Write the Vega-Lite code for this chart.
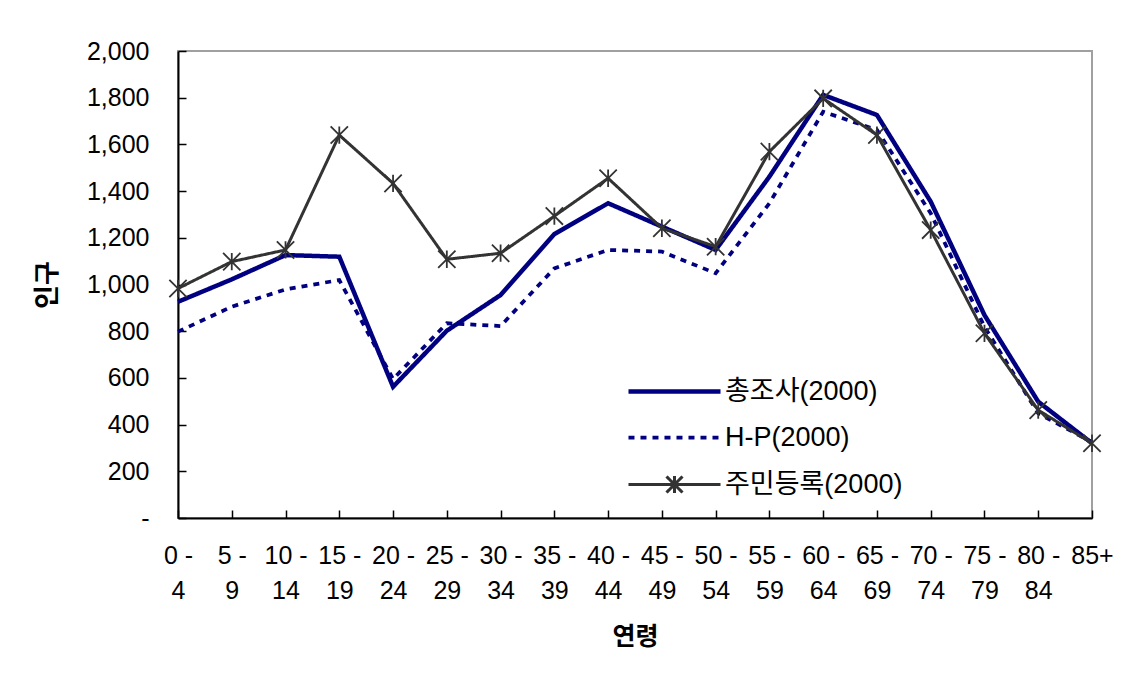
{
  "$schema": "https://vega.github.io/schema/vega-lite/v6.json",
  "width": 914,
  "height": 467,
  "autosize": {"type": "none"},
  "padding": {"left": 178, "top": 51, "right": 42, "bottom": 156},
  "background": "white",
  "config": {
    "font": "Liberation Sans, Noto Sans CJK KR",
    "view": {"stroke": "#a0a0a0", "strokeWidth": 2},
    "axis": {
      "grid": false,
      "domainColor": "black",
      "domainWidth": 2,
      "tickColor": "black",
      "tickWidth": 1.5,
      "tickSize": -8,
      "labelColor": "black",
      "labelFontSize": 25,
      "labelFont": "Liberation Sans, Noto Sans CJK KR",
      "titleFont": "Liberation Sans, Noto Sans CJK KR",
      "titleFontSize": 25,
      "titleFontWeight": "bold",
      "titleColor": "black"
    },
    "legend": {
      "labelFont": "Liberation Sans, Noto Sans CJK KR"
    }
  },
  "data": {
    "values": [
      {"age": "0-4", "series": "총조사(2000)", "value": 926},
      {"age": "5-9", "series": "총조사(2000)", "value": 1022},
      {"age": "10-14", "series": "총조사(2000)", "value": 1126},
      {"age": "15-19", "series": "총조사(2000)", "value": 1119},
      {"age": "20-24", "series": "총조사(2000)", "value": 562},
      {"age": "25-29", "series": "총조사(2000)", "value": 802},
      {"age": "30-34", "series": "총조사(2000)", "value": 955},
      {"age": "35-39", "series": "총조사(2000)", "value": 1216},
      {"age": "40-44", "series": "총조사(2000)", "value": 1348},
      {"age": "45-49", "series": "총조사(2000)", "value": 1248},
      {"age": "50-54", "series": "총조사(2000)", "value": 1148},
      {"age": "55-59", "series": "총조사(2000)", "value": 1462},
      {"age": "60-64", "series": "총조사(2000)", "value": 1812},
      {"age": "65-69", "series": "총조사(2000)", "value": 1726},
      {"age": "70-74", "series": "총조사(2000)", "value": 1355},
      {"age": "75-79", "series": "총조사(2000)", "value": 869},
      {"age": "80-84", "series": "총조사(2000)", "value": 498},
      {"age": "85+", "series": "총조사(2000)", "value": 320},
      {"age": "0-4", "series": "H-P(2000)", "value": 798},
      {"age": "5-9", "series": "H-P(2000)", "value": 905},
      {"age": "10-14", "series": "H-P(2000)", "value": 979},
      {"age": "15-19", "series": "H-P(2000)", "value": 1019},
      {"age": "20-24", "series": "H-P(2000)", "value": 595},
      {"age": "25-29", "series": "H-P(2000)", "value": 834},
      {"age": "30-34", "series": "H-P(2000)", "value": 822},
      {"age": "35-39", "series": "H-P(2000)", "value": 1069},
      {"age": "40-44", "series": "H-P(2000)", "value": 1148},
      {"age": "45-49", "series": "H-P(2000)", "value": 1141},
      {"age": "50-54", "series": "H-P(2000)", "value": 1048},
      {"age": "55-59", "series": "H-P(2000)", "value": 1348},
      {"age": "60-64", "series": "H-P(2000)", "value": 1740},
      {"age": "65-69", "series": "H-P(2000)", "value": 1662},
      {"age": "70-74", "series": "H-P(2000)", "value": 1305},
      {"age": "75-79", "series": "H-P(2000)", "value": 819},
      {"age": "80-84", "series": "H-P(2000)", "value": 448},
      {"age": "85+", "series": "H-P(2000)", "value": 325},
      {"age": "0-4", "series": "주민등록(2000)", "value": 983},
      {"age": "5-9", "series": "주민등록(2000)", "value": 1098},
      {"age": "10-14", "series": "주민등록(2000)", "value": 1148},
      {"age": "15-19", "series": "주민등록(2000)", "value": 1640},
      {"age": "20-24", "series": "주민등록(2000)", "value": 1433},
      {"age": "25-29", "series": "주민등록(2000)", "value": 1108},
      {"age": "30-34", "series": "주민등록(2000)", "value": 1134},
      {"age": "35-39", "series": "주민등록(2000)", "value": 1293},
      {"age": "40-44", "series": "주민등록(2000)", "value": 1455},
      {"age": "45-49", "series": "주민등록(2000)", "value": 1241},
      {"age": "50-54", "series": "주민등록(2000)", "value": 1162},
      {"age": "55-59", "series": "주민등록(2000)", "value": 1569},
      {"age": "60-64", "series": "주민등록(2000)", "value": 1797},
      {"age": "65-69", "series": "주민등록(2000)", "value": 1640},
      {"age": "70-74", "series": "주민등록(2000)", "value": 1233},
      {"age": "75-79", "series": "주민등록(2000)", "value": 791},
      {"age": "80-84", "series": "주민등록(2000)", "value": 462},
      {"age": "85+", "series": "주민등록(2000)", "value": 320}
    ]
  },
  "encoding": {
    "x": {
      "field": "age",
      "type": "ordinal",
      "sort": null,
      "scale": {"type": "point", "padding": 0},
      "axis": {
        "title": "연령",
        "labelAngle": 0,
        "labelPadding": 33,
        "labelLineHeight": 35,
        "labelBaseline": "top",
        "titlePadding": 21,
        "labelExpr": "indexof(datum.label, '-') > 0 ? [split(datum.label, '-')[0] + ' -', split(datum.label, '-')[1]] : datum.label"
      }
    },
    "y": {
      "field": "value",
      "type": "quantitative",
      "scale": {"domain": [0, 2000], "nice": false},
      "axis": {
        "title": "인구",
        "values": [0, 200, 400, 600, 800, 1000, 1200, 1400, 1600, 1800, 2000],
        "labelExpr": "datum.value === 0 ? '-' : format(datum.value, ',')",
        "labelPadding": 37,
        "titlePadding": 26,
        "titleFontSize": 26
      }
    }
  },
  "layer": [
    {
      "mark": {"type": "line", "strokeJoin": "miter"},
      "encoding": {
        "color": {
          "field": "series",
          "type": "nominal",
          "scale": {"domain": ["총조사(2000)", "H-P(2000)", "주민등록(2000)"], "range": ["#000080", "#000080", "#333333"]},
          "legend": {
            "title": null,
            "orient": "none",
            "legendX": 483,
            "legendY": 327,
            "padding": 0,
            "symbolSize": 458,
            "labelOffset": 37,
            "rowPadding": 18,
            "labelFontSize": 27,
            "labelColor": "black",
            "labelLimit": 400,
            "encode": {
              "symbols": {
                "update": {
                  "shape": {"signal": "datum.value === '주민등록(2000)' ? 'M-4.3,0L4.3,0M-0.75,-0.75L0.75,0.75M-0.75,0.75L0.75,-0.75M0,-0.8L0,0.8' : 'M-4.3,0L4.3,0'"}
                }
              }
            }
          }
        },
        "strokeDash": {
          "field": "series",
          "type": "nominal",
          "scale": {"domain": ["총조사(2000)", "H-P(2000)", "주민등록(2000)"], "range": [[1, 0], [6, 6], [1, 0]]}
        },
        "strokeWidth": {
          "field": "series",
          "type": "nominal",
          "scale": {"domain": ["총조사(2000)", "H-P(2000)", "주민등록(2000)"], "range": [4.5, 3, 1.8]}
        }
      }
    },
    {
      "transform": [{"filter": "datum.series === '주민등록(2000)'"}],
      "mark": {
        "type": "point",
        "shape": "M-1,-1L1,1M-1,1L1,-1M0,-1L0,1",
        "filled": false,
        "stroke": "#333333",
        "strokeWidth": 1.8,
        "size": 300,
        "opacity": 1
      }
    }
  ]
}
